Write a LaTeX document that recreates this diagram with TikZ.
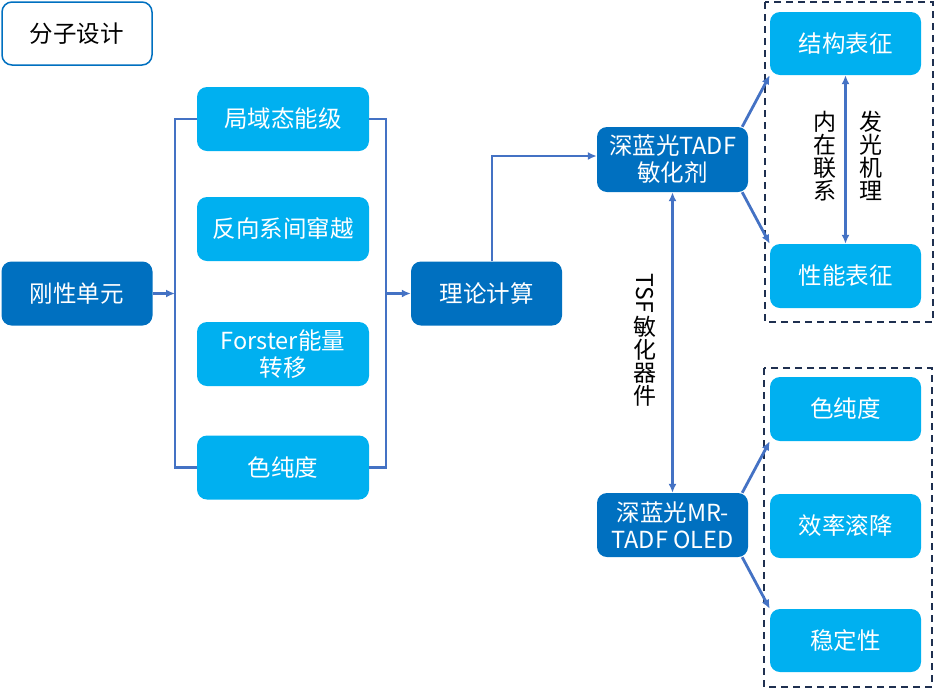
\documentclass[tikz,border=0pt]{standalone}
\usepackage{fontspec}
\usepackage{graphicx}
\setmainfont{Noto Sans CJK SC}
\usetikzlibrary{arrows.meta}
\definecolor{dkblue}{HTML}{0070C0}
\definecolor{ltblue}{HTML}{00B0F0}
\definecolor{arrblue}{HTML}{4472C4}
\definecolor{navy}{HTML}{1F3050}
\tikzset{
  boxbase/.style={rounded corners=10pt, minimum width=151pt, minimum height=64pt, inner sep=0pt, align=center, text=white, font=\fontsize{23.5}{27}\selectfont},
  darkbox/.style={boxbase, fill=dkblue},
  lightbox/.style={boxbase, fill=ltblue, minimum width=172pt},
  rbox/.style={boxbase, fill=ltblue, minimum width=151pt},
  conn/.style={draw=arrblue, line width=2.8pt},
  arr/.style={conn, -{Latex[length=9pt,width=8pt]}},
  darr/.style={conn, {Latex[length=9pt,width=8pt]}-{Latex[length=9pt,width=8pt]}},
  dashbox/.style={draw=navy, line width=2pt, dash pattern=on 7pt off 5pt},
  vlabel/.style={align=center, inner sep=0pt, font=\fontsize{23}{23}\selectfont, text=black}
}
\begin{document}
\begin{tikzpicture}[x=1pt,y=-1pt]
\useasboundingbox (0,0) rectangle (935,689);
% top-left label
\node[boxbase, fill=white, draw=dkblue, line width=1.5pt, text=black, minimum width=150pt, minimum height=63pt] (design) at (77,33.5) {分子设计};
% left
\node[darkbox] (rigid) at (77,293.5) {刚性单元};
\node[lightbox] (b1) at (283,119) {局域态能级};
\node[lightbox] (b2) at (283,229) {反向系间窜越};
\node[lightbox] (b3) at (283,354) {Forster能量\\转移};
\node[lightbox] (b4) at (283,467.5) {色纯度};
\node[darkbox] (calc) at (486.5,293.5) {理论计算};
% bracket coordinates
\coordinate (lbr) at (175,293.5);
\coordinate (rbr) at (386,293.5);
\draw[conn] (b1.west) -| (lbr) |- (b4.west);
\draw[arr] (rigid.east) -- (lbr);
\draw[conn] (b1.east) -| (rbr) |- (b4.east);
\draw[arr] (rbr) -- (calc.west);
% sensitizer
\node[darkbox, minimum height=65pt] (sens) at (672.5,159.5) {深蓝光TADF\\敏化剂};
\node[darkbox] (oled) at (672.5,525) {深蓝光MR-\\TADF OLED};
\coordinate (turn) at (492,156);
\draw[arr] (calc.north -| turn) -- (turn) -- (sens.west |- turn);
\draw[darr] (sens.south) -- (oled.north);
\node[vlabel] (tsf) at (645,340) {\rotatebox[origin=c]{-90}{TSF}\\[2pt]敏\\化\\器\\件};
% right top group
\draw[dashbox] (765,2) rectangle (933,322);
\node[rbox, minimum height=63pt] (struct) at (845.5,43.5) {结构表征};
\node[rbox] (perf) at (845.5,276) {性能表征};
\draw[darr] (struct.south) -- (perf.north);
\node[vlabel] (inner) at (825,156) {内\\在\\联\\系};
\node[vlabel] (mech) at (871,156) {发\\光\\机\\理};
\draw[arr] (sens.north east) ++(-6,0) coordinate (s1) -- (struct.south west);
\draw[arr] (sens.south east) ++(-6,0) coordinate (s2) -- (perf.north west);
% right bottom group
\draw[dashbox] (764,368) rectangle (932,687);
\node[rbox] (pur) at (845.5,409) {色纯度};
\node[rbox] (eff) at (845.5,526) {效率滚降};
\node[rbox, minimum height=63pt] (stab) at (845.5,640.5) {稳定性};
\draw[arr] (oled.north east) ++(-6,0) coordinate (o1) -- (pur.south west);
\draw[arr] (oled.south east) ++(-6,0) coordinate (o2) -- (stab.north west);
\end{tikzpicture}
\end{document}
